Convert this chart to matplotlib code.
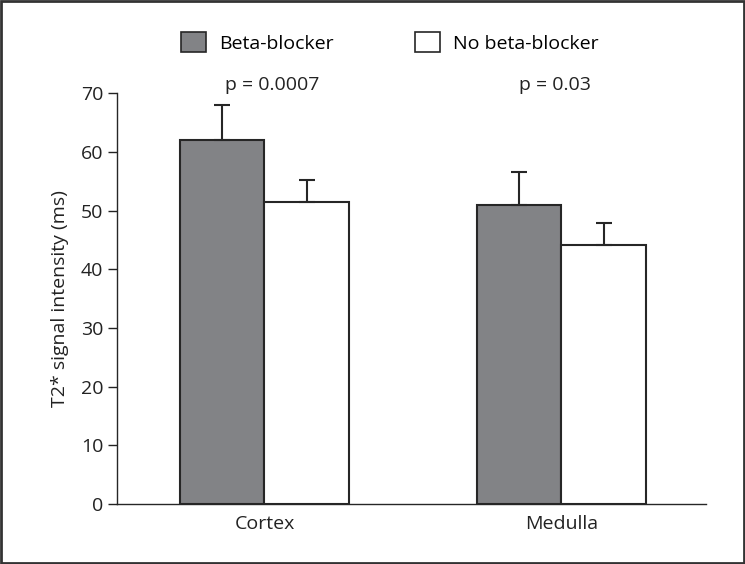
import matplotlib.pyplot as plt
from matplotlib.patches import Patch
import numpy as np

plt.rcParams['font.family'] = ['Open Sans', 'DejaVu Sans']

regiones = ['Cortex', 'Medulla']
grupos = ['Beta-blocker', 'No beta-blocker']
beta = [62.1, 50.9]
beta_err = [5.9, 5.6]
no_beta = [51.4, 44.1]
no_beta_err = [3.8, 3.8]
p_valores = ['p = 0.0007', 'p = 0.03']

gris = '#828386'
borde = '#262626'
fs = 14

fig = plt.figure(figsize=(7.45, 5.64), dpi=100)
ax = fig.add_axes([0.157, 0.1064, 0.790, 0.7282])

x = np.arange(len(regiones))
w = 0.285

ax.bar(x - w / 2, beta, w, color=gris, edgecolor=borde, linewidth=1.5,
       yerr=[np.zeros(2), beta_err], capsize=6,
       error_kw=dict(ecolor=borde, elinewidth=1.5, capthick=1.5), zorder=2)
ax.bar(x + w / 2, no_beta, w, color='white', edgecolor=borde, linewidth=1.5,
       yerr=[np.zeros(2), no_beta_err], capsize=6,
       error_kw=dict(ecolor=borde, elinewidth=1.5, capthick=1.5), zorder=2)

# valores p encima de cada grupo
for xi, p, dx in zip(x, p_valores, [0.025, -0.02]):
    ax.text(xi + dx, 71.4, p, ha='center', va='center', fontsize=fs,
            color='#222222', clip_on=False)

ax.set_xlim(-0.497, 1.486)
ax.set_ylim(0, 70)
ax.set_yticks(np.arange(0, 71, 10))
ax.set_xticks(x)
ax.set_xticklabels(regiones)
ax.tick_params(axis='x', length=0, pad=8, labelsize=fs, colors='#222222')
ax.tick_params(axis='y', length=6.5, width=1, labelsize=fs, colors='#222222')
ax.set_ylabel('T2* signal intensity (ms)', fontsize=fs, color='#222222',
              labelpad=8)
ax.spines['top'].set_visible(False)
ax.spines['right'].set_visible(False)
for s in ['left', 'bottom']:
    ax.spines[s].set_linewidth(1.0)
    ax.spines[s].set_color(borde)

handles = [Patch(facecolor=gris, edgecolor=borde, linewidth=1.2),
           Patch(facecolor='white', edgecolor=borde, linewidth=1.2)]
fig.legend(handles, grupos, loc='center', bbox_to_anchor=(0.523, 0.925),
           ncol=2, frameon=False, fontsize=fs, handlelength=1.3,
           handleheight=1.25, handletextpad=0.65, columnspacing=4.2)

# marco alrededor de la figura
fig.patches.append(plt.Rectangle((0.002, 0.002), 0.996, 0.996,
                                 transform=fig.transFigure, fill=False,
                                 edgecolor='#333333', linewidth=2))

fig.savefig('out.png', dpi=100)
